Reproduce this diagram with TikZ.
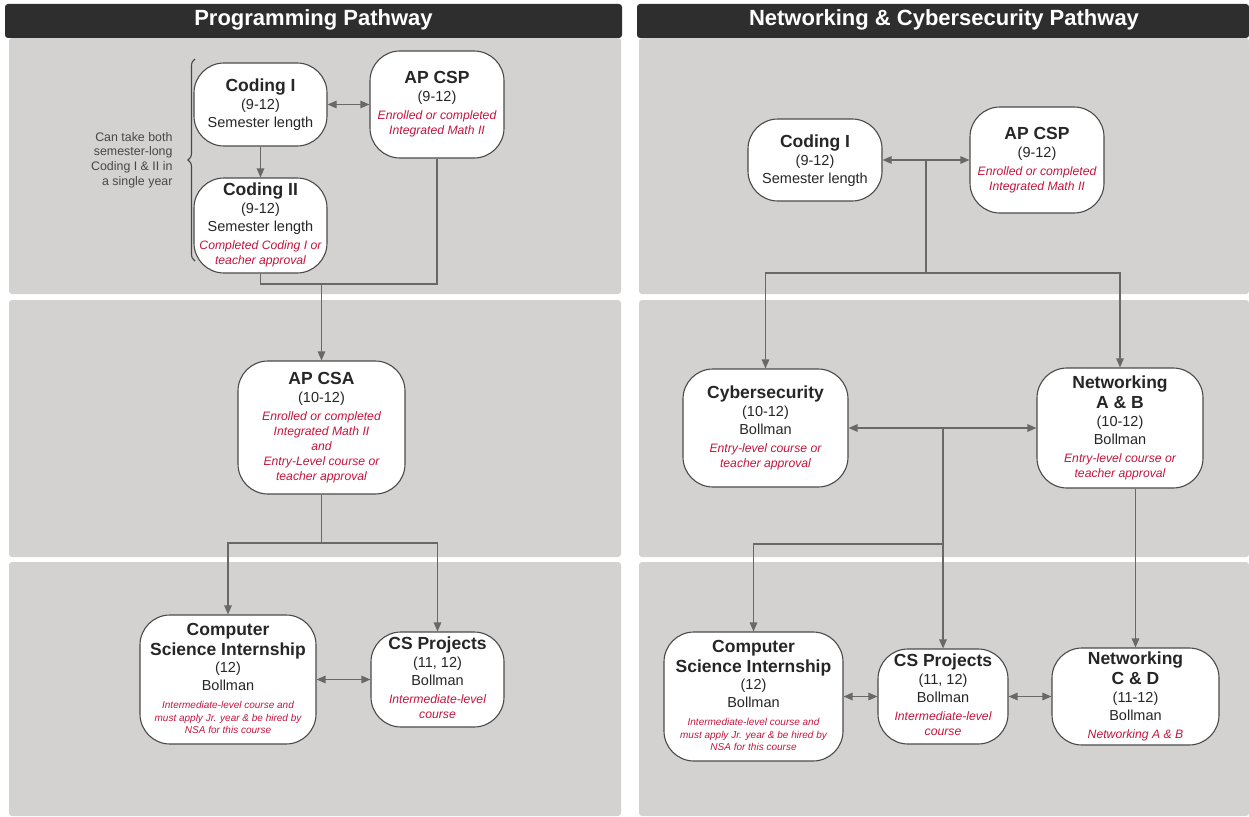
\documentclass[tikz,border=0pt]{standalone}
\usepackage{fontspec}
\setmainfont{Liberation Sans}
\usetikzlibrary{arrows.meta,decorations.pathreplacing}

\definecolor{panelgray}{HTML}{D3D2D0}
\definecolor{barblack}{HTML}{2E2E2E}
\definecolor{reqred}{HTML}{C4163F}
\definecolor{linegray}{HTML}{686868}
\definecolor{edgegray}{HTML}{4A4A4A}
\definecolor{inkgray}{HTML}{262626}

% text blocks inside the course boxes
\newcommand{\crsname}[1]{{\fontsize{17.5}{20}\selectfont\bfseries\begin{tabular}[t]{@{}c@{}}#1\end{tabular}}}
\newcommand{\crsreq}[1]{{\color{reqred}\fontsize{12.2}{15}\selectfont\itshape\begin{tabular}[t]{@{}c@{}}#1\end{tabular}}}
\newcommand{\crsfine}[1]{{\color{reqred}\fontsize{10}{12.5}\selectfont\itshape\begin{tabular}[t]{@{}c@{}}#1\end{tabular}}}

\begin{document}
\begin{tikzpicture}[x=1pt,y=-1pt,
		>={Triangle[length=9pt,width=7.5pt]},
		course/.style={draw=edgegray, line width=1.1pt, fill=white, rounded corners=30pt, align=center, inner sep=1pt, text=inkgray, font=\fontsize{14.5}{18}\selectfont},
		dims/.style 2 args={minimum width=#1pt, minimum height=#2pt},
		flow/.style={draw=linegray, line width=1.2pt},
		bartext/.style={text=white, font=\fontsize{22}{26}\selectfont\bfseries},
		sidenote/.style={align=right, text=inkgray!85, font=\fontsize{12.4}{14.7}\selectfont}]
		\newcommand{\lpanx}{9}
		\newcommand{\lpanw}{621}
		\newcommand{\rpanx}{639}
		\newcommand{\rpanw}{1249}
		
		\useasboundingbox (0,0) rectangle (1249,816);
		
		% panels
		\foreach \ytop/\ybot in {38/294, 300/557, 562/816}
		{
			\fill[panelgray, rounded corners=3pt] (\lpanx,\ytop) rectangle (\lpanw,\ybot);
			\fill[panelgray, rounded corners=3pt] (\rpanx,\ytop) rectangle (\rpanw,\ybot);
		}
		
		% title bars
		\fill[barblack, rounded corners=3pt] (5,4) rectangle (622,38);
		\fill[barblack, rounded corners=3pt] (637,4) rectangle (1249,38);
		\node[bartext] (lhead) at (313.5,20) {Programming Pathway};
		\node[bartext] (rhead) at (944,20) {Networking \& Cybersecurity Pathway};
		
		% programming pathway
		\node[course, dims={133}{83}] (lcod1) at (260.5,104.5) {\crsname{Coding I}\\(9-12)\\Semester length};
		\node[course, dims={134}{107}] (lapcsp) at (437,104.5) {\crsname{AP CSP}\\(9-12)\\\crsreq{Enrolled or completed\\Integrated Math II}};
		\node[course, dims={133}{95}] (lcod2) at (260.5,225.5) {\crsname{Coding II}\\(9-12)\\Semester length\\\crsreq{Completed Coding I or\\teacher approval}};
		\node[course, dims={167}{133}] (lapcsa) at (321.5,427.5) {\crsname{AP CSA}\\(10-12)\\\crsreq{Enrolled or completed\\Integrated Math II\\and\\Entry-Level course or\\teacher approval}};
		\node[course, dims={176}{129}] (lintern) at (228,679.5) {\crsname{Computer\\Science Internship}\\(12)\\Bollman\\\crsfine{Intermediate-level course and\\must apply Jr. year \& be hired by\\NSA for this course}};
		\node[course, dims={133}{95}] (lproj) at (437.5,679.5) {\crsname{CS Projects}\\(11, 12)\\Bollman\\\crsreq{Intermediate-level\\course}};
		
		% note on the semester courses
		\node[sidenote, anchor=east] (bothnote) at (176,160) {Can take both\\semester-long\\Coding I \& II in\\a single year};
		\draw[edgegray, line width=1.1pt, decorate, decoration={brace, amplitude=7pt}] (195,261) -- (195,59);
		
		% networking & cybersecurity pathway
		\node[course, dims={134}{82}] (rcod1) at (815,160) {\crsname{Coding I}\\(9-12)\\Semester length};
		\node[course, dims={134}{106}] (rapcsp) at (1037,160) {\crsname{AP CSP}\\(9-12)\\\crsreq{Enrolled or completed\\Integrated Math II}};
		\node[course, dims={165}{118}] (rcyber) at (765.5,428) {\crsname{Cybersecurity}\\(10-12)\\Bollman\\\crsreq{Entry-level course or\\teacher approval}};
		\node[course, dims={166}{120}] (rnetab) at (1120,428) {\crsname{Networking\\A \& B}\\(10-12)\\Bollman\\\crsreq{Entry-level course or\\teacher approval}};
		\node[course, dims={179}{129}] (rintern) at (753.5,696.5) {\crsname{Computer\\Science Internship}\\(12)\\Bollman\\\crsfine{Intermediate-level course and\\must apply Jr. year \& be hired by\\NSA for this course}};
		\node[course, dims={130}{95}] (rproj) at (943,696.5) {\crsname{CS Projects}\\(11, 12)\\Bollman\\\crsreq{Intermediate-level\\course}};
		\node[course, dims={167}{97}] (rnetcd) at (1135.5,696.5) {\crsname{Networking\\C \& D}\\(11-12)\\Bollman\\\crsreq{Networking A \& B}};
		
		% connectors, programming
		\coordinate (lsplit) at (321.5,284);
		\coordinate (lfork) at (321.5,543);
		\draw[flow, <->] (lcod1.east) -- (lapcsp.west);
		\draw[flow, ->] (lcod1) -- (lcod2);
		\draw[flow] (lcod2.south) |- (lsplit) -| (lapcsp.south);
		\draw[flow, ->] (lsplit) -- (lapcsa.north);
		\draw[flow] (lapcsa.south) -- (lfork);
		\draw[flow, ->] (lfork) -| (lintern.north);
		\draw[flow, ->] (lfork) -| (lproj.north);
		\draw[flow, <->] (lintern.east) -- (lproj.west);
		
		% connectors, networking
		\coordinate (rsplit) at (926,160);
		\coordinate (rfork) at (926,273);
		\coordinate (rsplit2) at (943,428);
		\coordinate (rfork2) at (943,544);
		\draw[flow, <->] (rcod1.east) -- (rapcsp.west);
		\draw[flow] (rsplit) -- (rfork);
		\draw[flow, ->] (rfork) -| (rcyber.north);
		\draw[flow, ->] (rfork) -| (rnetab.north);
		\draw[flow, <->] (rcyber.east) -- (rnetab.west);
		\draw[flow] (rsplit2) -- (rfork2);
		\draw[flow, ->] (rfork2) -| (rintern.north);
		\draw[flow, ->] (rfork2) -- (rproj.north);
		\draw[flow, ->] (rnetab.south -| rnetcd.north) -- (rnetcd.north);
		\draw[flow, <->] (rintern.east) -- (rproj.west);
		\draw[flow, <->] (rproj.east) -- (rnetcd.west);
\end{tikzpicture}
\end{document}
